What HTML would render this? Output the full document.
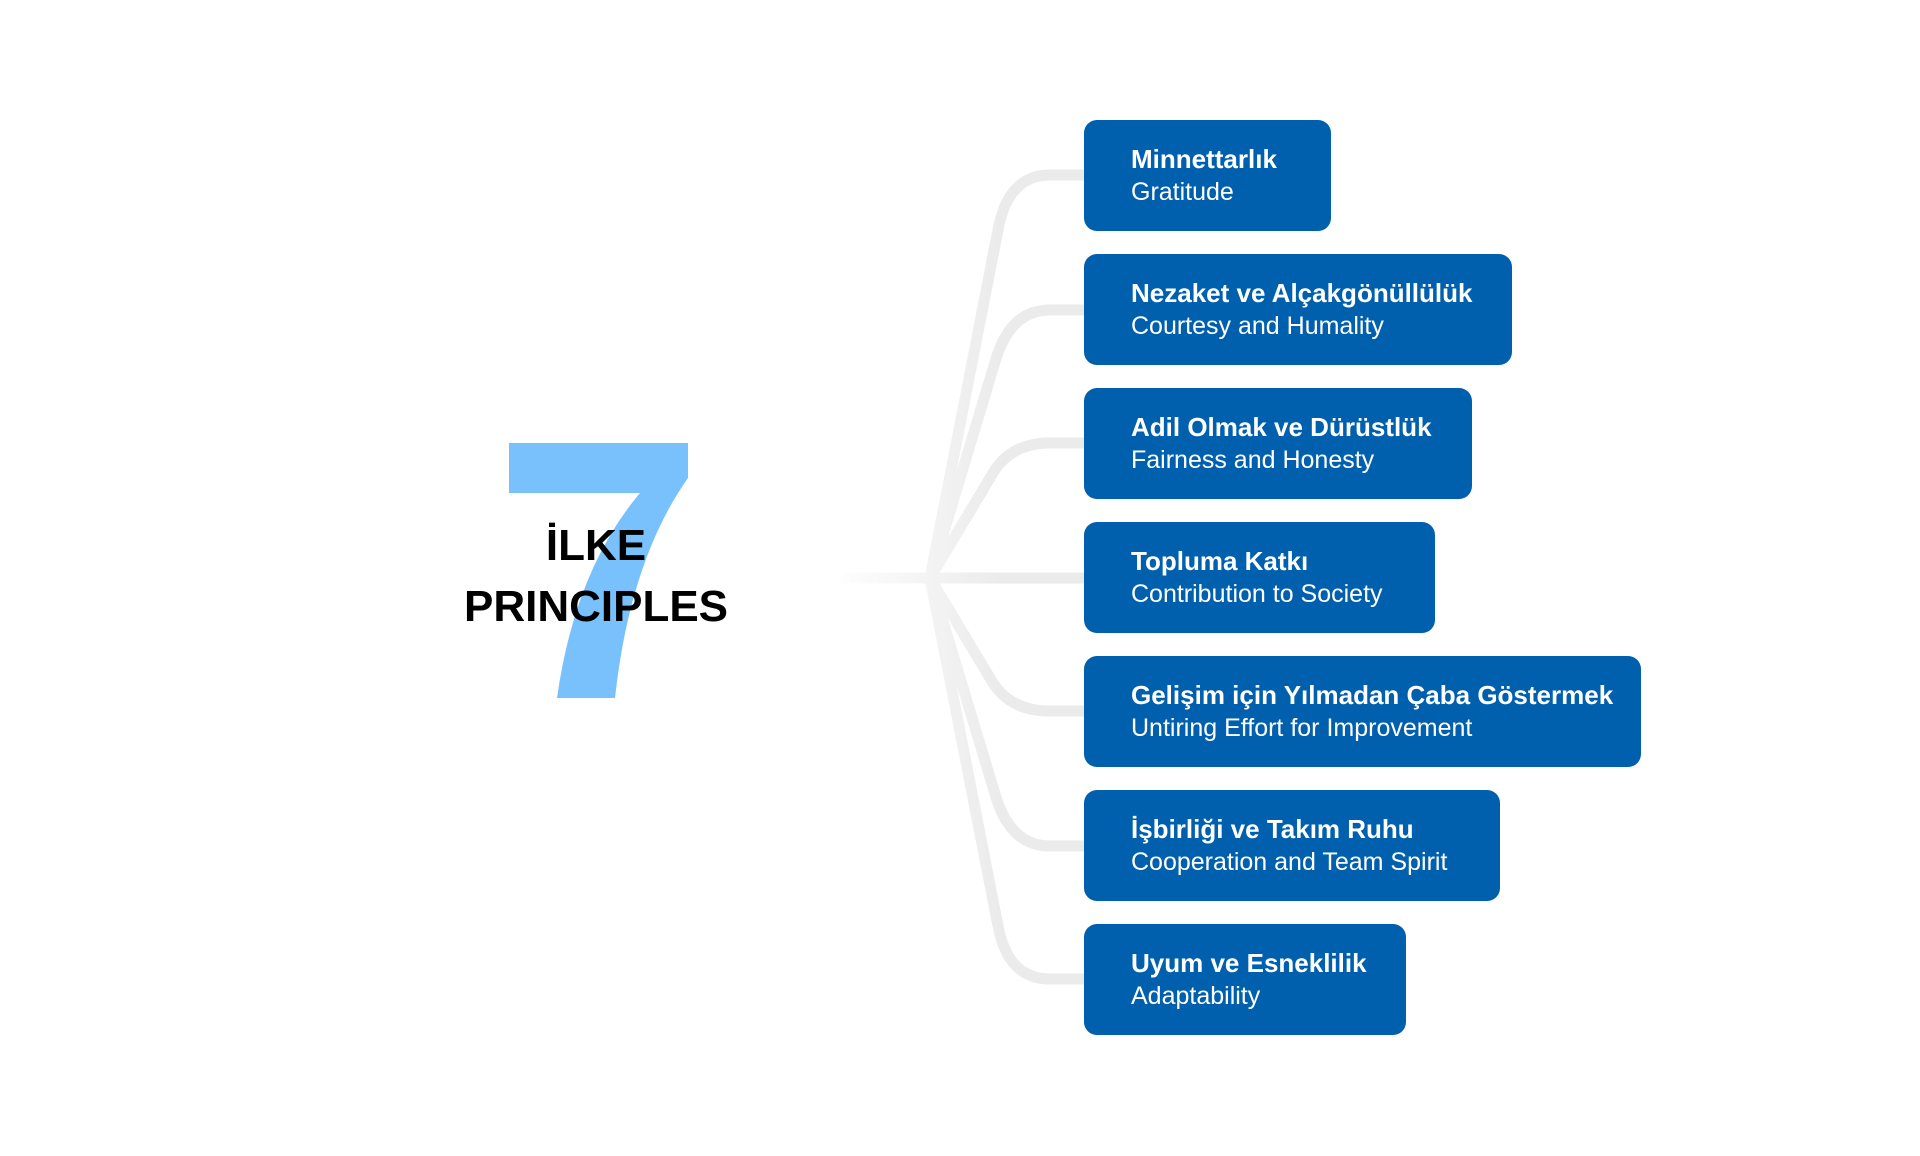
<!DOCTYPE html>
<html><head><meta charset="utf-8"><style>
body{margin:0;width:1920px;height:1156px;background:#fff;position:relative;overflow:hidden;font-family:"Liberation Sans",sans-serif}
.box{position:absolute;left:1084px;height:111px;background:#0060ae;border-radius:13px;color:#fff;box-sizing:border-box;padding-left:47px}
.box b{position:absolute;top:24px;left:47px;font-size:26px;white-space:nowrap}
.box span{position:absolute;top:58px;left:47px;font-size:25px;white-space:nowrap}
.t{position:absolute;left:396px;width:400px;text-align:center;font-weight:bold;font-size:44px;color:#000}
</style></head><body>
<svg width="1920" height="1156" style="position:absolute;left:0;top:0">
<defs><linearGradient id="g" gradientUnits="userSpaceOnUse" x1="830" y1="0" x2="1000" y2="0"><stop offset="0" stop-color="#fff"/><stop offset="1" stop-color="#ebebeb"/></linearGradient></defs>
<g fill="none" stroke="url(#g)" stroke-width="11" stroke-linecap="round">
<path d="M930,578 L998,230 Q1008,175 1050,175 L1090,175"/>
<path d="M930,578 L995,362 Q1010,310 1050,310 L1090,310"/>
<path d="M930,578 L990,478 Q1008,443 1050,443 L1090,443"/>
<path d="M845,578 L1090,578"/>
<path d="M930,578 L990,678 Q1008,711 1050,711 L1090,711"/>
<path d="M930,578 L995,794 Q1010,846 1050,846 L1090,846"/>
<path d="M930,578 L998,926 Q1008,979 1050,979 L1090,979"/>
</g>
<path d="M509,443 L688,443 L688,478 Q630,560 615,698 L557,698 Q575,570 640,493 L509,493 Z" fill="#78c1fd"/>
</svg>
<div class="t" style="top:521px">İLKE</div>
<div class="t" style="top:582px">PRINCIPLES</div>
<div class="box" style="top:120px;width:247px"><b>Minnettarlık</b><span>Gratitude</span></div>
<div class="box" style="top:254px;width:428px"><b>Nezaket ve Alçakgönüllülük</b><span>Courtesy and Humality</span></div>
<div class="box" style="top:388px;width:388px"><b>Adil Olmak ve Dürüstlük</b><span>Fairness and Honesty</span></div>
<div class="box" style="top:522px;width:351px"><b>Topluma Katkı</b><span>Contribution to Society</span></div>
<div class="box" style="top:656px;width:557px"><b>Gelişim için Yılmadan Çaba Göstermek</b><span>Untiring Effort for Improvement</span></div>
<div class="box" style="top:790px;width:416px"><b>İşbirliği ve Takım Ruhu</b><span>Cooperation and Team Spirit</span></div>
<div class="box" style="top:924px;width:322px"><b>Uyum ve Esneklilik</b><span>Adaptability</span></div>
</body></html>
